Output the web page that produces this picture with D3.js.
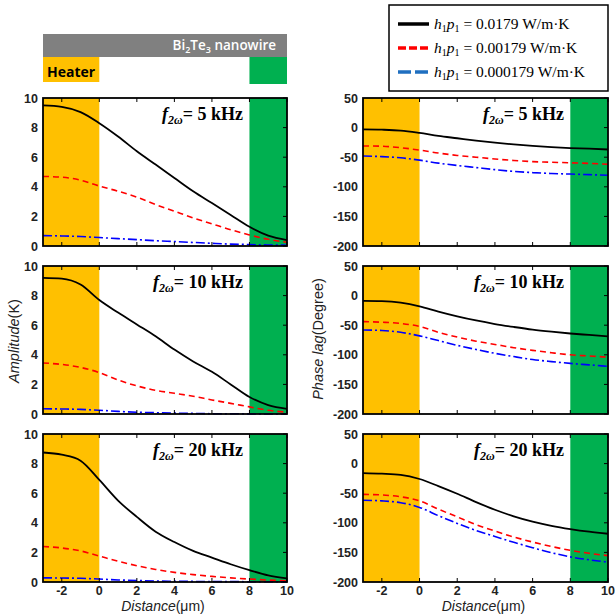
<!DOCTYPE html>
<html>
<head>
<meta charset="utf-8">
<script src="https://cdn.jsdelivr.net/npm/d3@7.9.0/dist/d3.min.js"></script>
<style>
  body { margin: 0; background: #fff; }
  svg { display: block; }
</style>
</head>
<body>
<svg id="chart" width="615" height="615"></svg>
<script>
// distance along the wire (um)
const distances = [-3, -2, -1, 0, 1, 2, 3, 4, 5, 6, 7, 8, 9, 10];
const xTicks = [-2, 0, 2, 4, 6, 8, 10];
const ampTicks = [0, 2, 4, 6, 8, 10];
const phaseTicks = [-200, -150, -100, -50, 0, 50];
const freqs = ['5', '10', '20'];
const hpValues = ['0.0179', '0.00179', '0.000179'];

// amplitude (K)
const amp5High = [9.5, 9.4, 9.05, 8.3, 7.4, 6.4, 5.5, 4.6, 3.7, 2.9, 2.1, 1.3, 0.7, 0.4];
const amp5Mid = [4.7, 4.65, 4.45, 4.05, 3.7, 3.3, 2.8, 2.35, 1.9, 1.5, 1.1, 0.75, 0.45, 0.25];
const amp5Low = [0.7, 0.68, 0.64, 0.57, 0.5, 0.43, 0.36, 0.3, 0.24, 0.18, 0.13, 0.1, 0.07, 0.05];
const amp10High = [9.2, 9.15, 8.75, 7.7, 6.85, 6.05, 5.25, 4.35, 3.55, 2.85, 2.0, 1.15, 0.6, 0.35];
const amp10Mid = [3.45, 3.35, 3.15, 2.8, 2.3, 1.9, 1.6, 1.4, 1.2, 0.95, 0.72, 0.48, 0.25, 0.12];
const amp10Low = [0.35, 0.34, 0.31, 0.25, 0.18, 0.12, 0.09, 0.06, 0.04, 0.02, 0.015, 0.01, 0.005, 0.0];
const amp20High = [8.75, 8.6, 8.2, 6.9, 5.5, 4.4, 3.4, 2.7, 2.1, 1.65, 1.2, 0.8, 0.45, 0.25];
const amp20Mid = [2.4, 2.3, 2.1, 1.75, 1.4, 1.1, 0.85, 0.65, 0.5, 0.38, 0.28, 0.2, 0.13, 0.08];
const amp20Low = [0.28, 0.27, 0.25, 0.2, 0.14, 0.1, 0.07, 0.05, 0.04, 0.03, 0.025, 0.02, 0.015, 0.01];

// phase lag (degree)
const phase5High = [-3, -3.5, -5, -9, -14, -18, -22, -25.5, -28.5, -31, -33, -34.5, -35.5, -37];
const phase5Mid = [-31, -31.5, -34, -38, -43, -47, -50, -53, -55.5, -57.5, -58.5, -59.5, -60.5, -62];
const phase5Low = [-48, -49, -51, -55, -60, -64, -67.5, -71, -74, -76, -77.5, -78.5, -79.5, -80.5];
const phase10High = [-9, -9.5, -12, -18, -27, -35, -42, -48, -53, -57.5, -61, -64, -66.5, -69];
const phase10Mid = [-44, -45, -47, -52, -62, -70, -77, -82.5, -88, -92.5, -96.5, -100, -102, -104];
const phase10Low = [-58, -59, -62, -68, -76, -84, -91, -97.5, -103, -108, -111.5, -114.5, -117, -119.5];
const phase20High = [-16, -17, -19, -26, -38, -51, -65, -78, -89, -98, -105, -110.5, -115, -118.5];
const phase20Mid = [-52, -53, -56, -63, -77, -90, -103, -114, -124, -132.5, -140, -146.5, -151.5, -155.5];
const phase20Low = [-62, -63, -66, -74, -88, -101, -113, -123, -133, -142, -150.5, -157.5, -162.5, -166.5];

const ampSets = [[amp5High, amp5Mid, amp5Low], [amp10High, amp10Mid, amp10Low], [amp20High, amp20Mid, amp20Low]];
const phaseSets = [[phase5High, phase5Mid, phase5Low], [phase10High, phase10Mid, phase10Low], [phase20High, phase20Mid, phase20Low]];

const lineStyles = [
  { color: '#000000', dash: null, width: 1.8 },
  { color: '#ff0000', dash: '6,4', width: 1.6 },
  { color: '#0000ff', dash: '9,3,2,3', width: 1.6 }
];
const legendColors = ['#000000', '#ff0000', '#1f6fc0'];

const svg = d3.select('#chart');
const panelTops = [98, 266, 434];
const panelH = 148;
const cols = [
  { x0: 43, x1: 287, domain: [0, 10], ticks: ampTicks, sets: ampSets },
  { x0: 363, x1: 608, domain: [-200, 50], ticks: phaseTicks, sets: phaseSets }
];

cols.forEach((col, ci) => {
  const x = d3.scaleLinear().domain([-3, 10]).range([col.x0, col.x1]);
  panelTops.forEach((top, ri) => {
    const y = d3.scaleLinear().domain(col.domain).range([top + panelH, top]);
    const g = svg.append('g');

    g.append('rect')
      .attr('x', x(-3)).attr('y', top)
      .attr('width', x(0) - x(-3)).attr('height', panelH)
      .attr('fill', '#ffc000');
    g.append('rect')
      .attr('x', x(8)).attr('y', top)
      .attr('width', x(10) - x(8)).attr('height', panelH)
      .attr('fill', '#00b050');

    const line = d3.line()
      .x((d, i) => x(distances[i]))
      .y(d => y(d))
      .curve(d3.curveMonotoneX);

    col.sets[ri].forEach((vals, si) => {
      const st = lineStyles[si];
      g.append('path')
        .attr('d', line(vals))
        .attr('fill', 'none')
        .attr('stroke', st.color)
        .attr('stroke-width', st.width)
        .attr('stroke-dasharray', st.dash);
    });

    // inside ticks on every side
    const bottom = top + panelH;
    xTicks.forEach(t => {
      g.append('line').attr('x1', x(t)).attr('x2', x(t)).attr('y1', bottom).attr('y2', bottom - 4).attr('stroke', '#000');
      g.append('line').attr('x1', x(t)).attr('x2', x(t)).attr('y1', top).attr('y2', top + 4).attr('stroke', '#000');
    });
    col.ticks.forEach(t => {
      g.append('line').attr('x1', col.x1).attr('x2', col.x1 - 4).attr('y1', y(t)).attr('y2', y(t)).attr('stroke', '#000');
      g.append('text')
        .attr('x', col.x0 - 5).attr('y', y(t) + 4.5)
        .attr('text-anchor', 'end')
        .attr('font-family', 'Arial, Liberation Sans, sans-serif')
        .attr('font-size', 12.5)
        .attr('font-weight', 'bold')
        .attr('fill', '#222')
        .text(t);
    });

    g.append('rect')
      .attr('x', col.x0).attr('y', top)
      .attr('width', col.x1 - col.x0).attr('height', panelH)
      .attr('fill', 'none').attr('stroke', '#000').attr('stroke-width', 1.8);

    // frequency title
    const title = g.append('text')
      .attr('x', col.x1 - 44).attr('y', top + 22)
      .attr('text-anchor', 'end')
      .attr('font-family', 'Liberation Serif, Times New Roman, serif')
      .attr('font-weight', 'bold')
      .attr('font-size', 18);
    title.append('tspan').attr('font-style', 'italic').text('f');
    title.append('tspan').attr('font-style', 'italic').attr('font-size', 12).attr('dy', 4).text('2ω');
    title.append('tspan').attr('dy', -4).text('= ' + freqs[ri] + ' kHz');

    if (ri === 2) {
      xTicks.forEach(t => {
        g.append('text')
          .attr('x', x(t)).attr('y', bottom + 12.5)
          .attr('text-anchor', 'middle')
          .attr('font-family', 'Arial, Liberation Sans, sans-serif')
          .attr('font-size', 12.5)
          .attr('font-weight', 'bold')
          .attr('fill', '#222')
          .text(t);
      });
      const xl = g.append('text')
        .attr('x', (col.x0 + col.x1) / 2 - 2).attr('y', bottom + 29)
        .attr('text-anchor', 'middle')
        .attr('font-family', 'Arial, Liberation Sans, sans-serif')
        .attr('font-size', 14)
        .attr('fill', '#222');
      xl.append('tspan').attr('font-style', 'italic').text('Distance');
      xl.append('tspan').text('(μm)');
    }
  });
});

// y axis titles
const yl1 = svg.append('text')
  .attr('transform', 'translate(19,341) rotate(-90)')
  .attr('text-anchor', 'middle')
  .attr('font-family', 'Arial, Liberation Sans, sans-serif')
  .attr('font-size', 14.5).attr('fill', '#222');
yl1.append('tspan').attr('font-style', 'italic').text('Amplitude');
yl1.append('tspan').text('(K)');

const yl2 = svg.append('text')
  .attr('transform', 'translate(323,339) rotate(-90)')
  .attr('text-anchor', 'middle')
  .attr('font-family', 'Arial, Liberation Sans, sans-serif')
  .attr('font-size', 14.5).attr('fill', '#222');
yl2.append('tspan').attr('font-style', 'italic').text('Phase lag');
yl2.append('tspan').text('(Degree)');

// nanowire sketch above the left column
const xs = d3.scaleLinear().domain([-3, 10]).range([43, 287]);
svg.append('rect').attr('x', xs(-3)).attr('y', 34).attr('width', xs(10) - xs(-3)).attr('height', 23).attr('fill', '#808080');
svg.append('rect').attr('x', xs(-3)).attr('y', 57).attr('width', xs(0) - xs(-3)).attr('height', 25).attr('fill', '#ffc000');
svg.append('rect').attr('x', xs(8)).attr('y', 57).attr('width', xs(10) - xs(8)).attr('height', 27).attr('fill', '#00b050');
const wire = svg.append('text')
  .attr('x', 276).attr('y', 50)
  .attr('text-anchor', 'end')
  .attr('font-family', 'Open Sans, sans-serif')
  .attr('font-weight', 600)
  .attr('font-size', 13.5)
  .attr('fill', '#fff');
wire.append('tspan').text('Bi');
wire.append('tspan').attr('font-size', 9).attr('dy', 3).text('2');
wire.append('tspan').attr('dy', -3).text('Te');
wire.append('tspan').attr('font-size', 9).attr('dy', 3).text('3');
wire.append('tspan').attr('dy', -3).text(' nanowire');
svg.append('text')
  .attr('x', 47).attr('y', 77)
  .attr('font-family', 'Open Sans, sans-serif')
  .attr('font-weight', 'bold')
  .attr('font-size', 14)
  .attr('fill', '#000')
  .text('Heater');

// legend
svg.append('rect').attr('x', 389).attr('y', 5).attr('width', 219).attr('height', 86)
  .attr('fill', '#fff').attr('stroke', '#000').attr('stroke-width', 1.5);
hpValues.forEach((v, i) => {
  const ly = 24 + i * 24;
  svg.append('line')
    .attr('x1', 398).attr('x2', 429).attr('y1', ly).attr('y2', ly)
    .attr('stroke', legendColors[i]).attr('stroke-width', 3.5)
    .attr('stroke-dasharray', i === 0 ? null : (i === 1 ? '8,3' : '13,4'));
  const t = svg.append('text')
    .attr('x', 434).attr('y', ly + 5)
    .attr('font-family', 'Liberation Serif, Times New Roman, serif')
    .attr('font-size', 15.5).attr('fill', '#000');
  t.append('tspan').attr('font-style', 'italic').text('h');
  t.append('tspan').attr('font-size', 10).attr('dy', 3).text('1');
  t.append('tspan').attr('font-style', 'italic').attr('dy', -3).text('p');
  t.append('tspan').attr('font-size', 10).attr('dy', 3).text('1');
  t.append('tspan').attr('dy', -3).text(' = ' + v + ' W/m·K');
});
</script>
</body>
</html>
